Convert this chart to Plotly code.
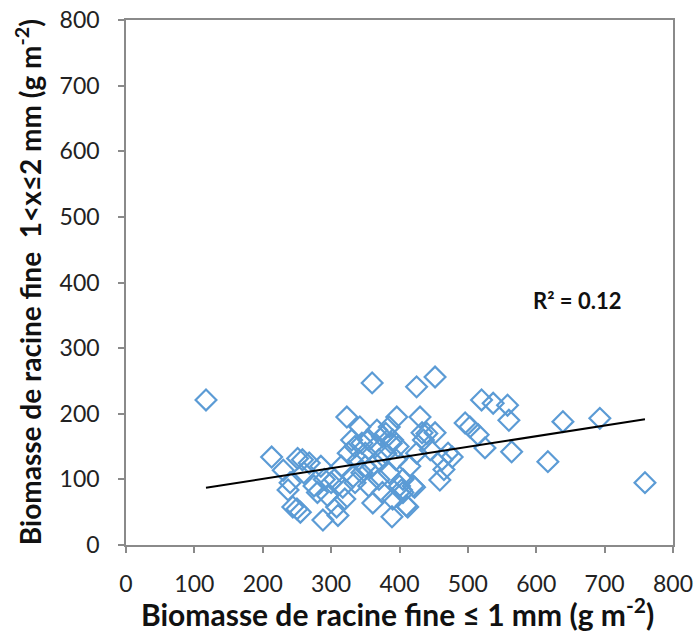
import plotly.graph_objects as go

# Fine root biomass <= 1 mm (g m-2)
x_vals = [117, 213, 230, 237, 240, 244, 250, 251, 255, 258, 260, 268, 275, 280,
          285, 288, 290, 295, 300, 305, 308, 310, 315, 317, 320, 323, 325, 330,
          332, 335, 335, 340, 342, 345, 345, 350, 350, 355, 355, 360, 360, 361,
          365, 367, 370, 370, 375, 375, 380, 380, 385, 385, 388, 389, 390, 390,
          395, 396, 398, 400, 403, 405, 405, 410, 412, 415, 420, 422, 425, 425,
          430, 433, 435, 440, 445, 452, 452, 459, 462, 465, 471, 477, 496, 503,
          515, 520, 525, 537, 558, 560, 564, 617, 639, 693, 759]
# Fine root biomass 1 < x <= 2 mm (g m-2)
y_vals = [221, 134, 114, 84, 95, 58, 55, 132, 50, 130, 110, 125, 90, 80,
          120, 38, 100, 75, 95, 100, 58, 45, 120, 88, 70, 195, 140, 160,
          104, 150, 95, 130, 180, 110, 155, 140, 120, 160, 90, 120, 247, 64,
          150, 175, 100, 130, 165, 80, 140, 170, 180, 110, 155, 43, 160, 70,
          130, 195, 150, 90, 84, 100, 80, 60, 58, 120, 90, 88, 241, 140,
          195, 171, 160, 170, 145, 256, 171, 99, 130, 115, 140, 134, 186, 180,
          168, 221, 148, 216, 213, 190, 142, 127, 188, 193, 95]

# Linear trend
trend_intercept = 68.0
trend_slope = 0.163
r2_label = "R² = 0.12"

x_ticks = [0, 100, 200, 300, 400, 500, 600, 700, 800]
y_ticks = [0, 100, 200, 300, 400, 500, 600, 700, 800]

x_title = "Biomasse de racine fine ≤ 1 mm (g m<sup>-2</sup>)"
y_title = "Biomasse de racine fine  1<x≤2 mm (g m<sup>-2</sup>)"

FONT = "Lato, 'Open Sans', sans-serif"

fig = go.Figure()
fig.add_trace(go.Scatter(
    x=x_vals, y=y_vals, mode="markers",
    marker=dict(symbol="diamond-open", size=16, color="#5b9bd5",
                line=dict(width=2.2, color="#5b9bd5")),
    showlegend=False, cliponaxis=False))

x0, x1 = min(x_vals), max(x_vals)
fig.add_trace(go.Scatter(
    x=[x0, x1], y=[trend_intercept + trend_slope * x0, trend_intercept + trend_slope * x1],
    mode="lines", line=dict(color="black", width=2), showlegend=False))

fig.add_annotation(x=659, y=372, text="<b>" + r2_label + "</b>", showarrow=False,
                   font=dict(family=FONT, size=22, color="#111"))

fig.add_annotation(xref="paper", yref="paper", x=0.497, y=-0.128,
                   text="<b>" + x_title + "</b>", showarrow=False,
                   xanchor="center", yanchor="middle",
                   font=dict(family=FONT, size=30, color="#111"))
fig.add_annotation(xref="paper", yref="paper", x=-0.178, y=0.5,
                   text="<b>" + y_title + "</b>", showarrow=False, textangle=-90,
                   xanchor="center", yanchor="middle",
                   font=dict(family=FONT, size=28, color="#111"))

axis_common = dict(
    showline=True, linecolor="#8a8a8a", linewidth=1.5, mirror=True,
    ticks="outside", ticklen=6, tickcolor="#8a8a8a", tickwidth=1.5,
    showgrid=False, zeroline=False, automargin=False,
    ticklabeloverflow="allow",
    tickfont=dict(family=FONT, size=23, color="#222"),
)

fig.update_xaxes(range=[0, 800], tickvals=x_ticks, ticklabelstandoff=12, **axis_common)
fig.update_yaxes(range=[0, 800], tickvals=y_ticks, ticklabelstandoff=14, **axis_common)

fig.update_layout(
    width=694, height=640,
    margin=dict(l=126, r=21, t=20, b=95),
    plot_bgcolor="white", paper_bgcolor="white",
)

fig.write_html("out.html",
               config={"displayModeBar": False},
               post_script="document.body.style.margin='0';document.body.style.overflow='hidden';")
